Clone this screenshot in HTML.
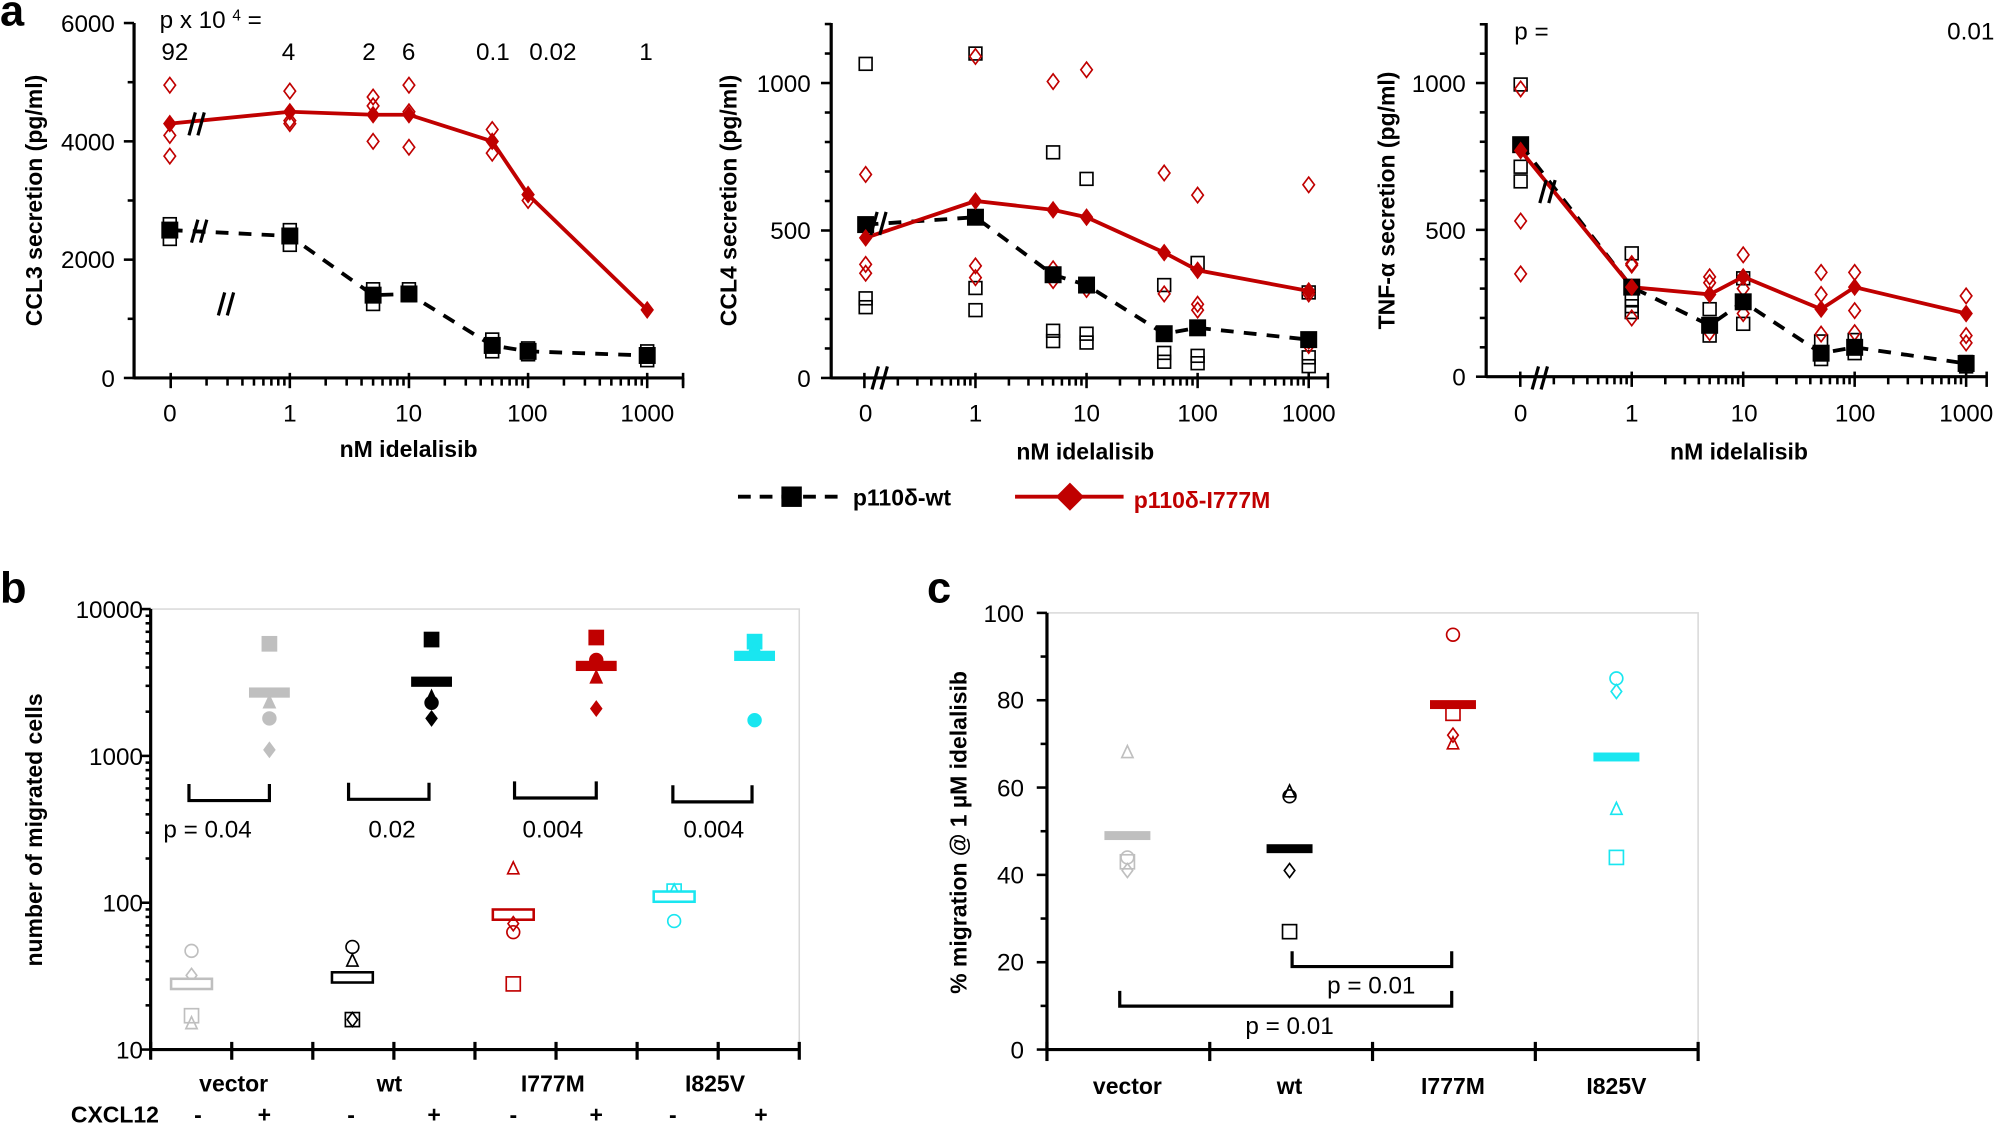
<!DOCTYPE html>
<html><head><meta charset="utf-8">
<style>
html,body{margin:0;padding:0;background:#fff;}
svg{display:block;}
text{font-family:"Liberation Sans Narrow","Liberation Sans",sans-serif;}
.b{font-weight:bold;}
</style></head>
<body>
<svg id="s" width="2002" height="1123" viewBox="0 0 1568 879.5" xmlns="http://www.w3.org/2000/svg">
<rect width="1568" height="880" fill="#fff"/>
<g id="g"></g>
<text x="0" y="20" font-size="34" class="b">a</text>
<text x="0" y="472" font-size="34" class="b">b</text>
<text x="726" y="472" font-size="34" class="b">c</text>

<g font-size="19" text-anchor="end">
<text x="90" y="25">6000</text><text x="90" y="118">4000</text><text x="90" y="210">2000</text><text x="90" y="303">0</text>
<text x="635" y="72">1000</text><text x="635" y="187">500</text><text x="635" y="303">0</text>
<text x="1148" y="72">1000</text><text x="1148" y="187">500</text><text x="1148" y="302">0</text>
</g>
<g font-size="19" text-anchor="middle">
<text x="133" y="330">0</text><text x="227" y="330">1</text><text x="320" y="330">10</text><text x="413" y="330">100</text><text x="507" y="330">1000</text>
<text x="678" y="330">0</text><text x="764" y="330">1</text><text x="851" y="330">10</text><text x="938" y="330">100</text><text x="1025" y="330">1000</text>
<text x="1191" y="330">0</text><text x="1278" y="330">1</text><text x="1366" y="330">10</text><text x="1453" y="330">100</text><text x="1540" y="330">1000</text>
<text x="137" y="47">92</text><text x="226" y="47">4</text><text x="289" y="47">2</text><text x="320" y="47">6</text><text x="386" y="47">0.1</text><text x="433" y="47">0.02</text><text x="506" y="47">1</text>
</g>
<text x="125" y="22" font-size="19">p x 10 <tspan font-size="12" dy="-6">4</tspan><tspan dy="6"> =</tspan></text>
<text x="1186" y="31" font-size="19">p  =</text>
<text x="1562" y="31" font-size="19" text-anchor="end">0.01</text>
<g font-size="18" class="b" text-anchor="middle">
<text x="320" y="358">nM idelalisib</text>
<text x="850" y="360">nM idelalisib</text>
<text x="1362" y="360">nM idelalisib</text>
<text transform="translate(33,157) rotate(-90)">CCL3 secretion (pg/ml)</text>
<text transform="translate(577,157) rotate(-90)">CCL4 secretion (pg/ml)</text>
<text transform="translate(1092,157) rotate(-90)">TNF-α secretion (pg/ml)</text>
<text transform="translate(33,650) rotate(-90)">number of migrated cells</text>
<text transform="translate(757,652) rotate(-90)">% migration @ 1 µM idelalisib</text>
</g>
<line x1="578" y1="389" x2="656" y2="389" stroke="#000" stroke-width="3" stroke-dasharray="10,7"/>
<rect x="612" y="381" width="16" height="16" fill="#000"/>
<text x="668" y="396" font-size="18" class="b">p110δ-wt</text>
<line x1="795" y1="389" x2="880" y2="389" stroke="#c00000" stroke-width="3"/>
<polygon points="838,378 849,389 838,400 827,389" fill="#c00000"/>
<text x="888" y="398" font-size="18" class="b" fill="#c00000">p110δ-I777M</text>

<g font-size="19" text-anchor="end">
<text x="112" y="484">10000</text><text x="112" y="599">1000</text><text x="112" y="714">100</text><text x="112" y="829">10</text>
<text x="802" y="487">100</text><text x="802" y="555">80</text><text x="802" y="624">60</text><text x="802" y="692">40</text><text x="802" y="760">20</text><text x="802" y="829">0</text>
</g>
<g font-size="19" text-anchor="middle">
<text x="307" y="656">0.02</text><text x="433" y="656">0.004</text><text x="559" y="656">0.004</text>
<text x="1074" y="778">p = 0.01</text><text x="1010" y="810">p = 0.01</text>
</g>
<text x="128" y="656" font-size="19">p =  0.04</text>
<g font-size="18" class="b" text-anchor="middle">
<text x="183" y="855">vector</text><text x="305" y="855">wt</text><text x="433" y="855">I777M</text><text x="560" y="855">I825V</text>
<text x="883" y="857">vector</text><text x="1010" y="857">wt</text><text x="1138" y="857">I777M</text><text x="1266" y="857">I825V</text>
<text x="90" y="879">CXCL12</text>
<text x="155" y="879">-</text><text x="207" y="879">+</text><text x="275" y="879">-</text><text x="340" y="879">+</text>
<text x="402" y="879">-</text><text x="467" y="879">+</text><text x="527" y="879">-</text><text x="596" y="879">+</text>
</g>
</svg>
<script>
var g=document.getElementById('g'),NS='http://www.w3.org/2000/svg';
function el(t,a){var e=document.createElementNS(NS,t);for(var k in a)e.setAttribute(k,a[k]);g.appendChild(e);return e;}
function line(x1,y1,x2,y2,c,w,d){var o={x1:x1,y1:y1,x2:x2,y2:y2,stroke:c||'#000','stroke-width':w||2.5};if(d)o['stroke-dasharray']=d;el('line',o);}
function dia(x,y,s,c,f){el('polygon',{points:(x)+','+(y-s)+' '+(x+s*0.75)+','+y+' '+x+','+(y+s)+' '+(x-s*0.75)+','+y,fill:f?c:'#fff','fill-opacity':f?1:0,stroke:c,'stroke-width':1.3});}
function sq(x,y,s,c,f){el('rect',{x:x-s,y:y-s,width:2*s,height:2*s,fill:f?c:'none',stroke:c,'stroke-width':1.3});}
function cir(x,y,s,c,f){el('circle',{cx:x,cy:y,r:s,fill:f?c:'none',stroke:c,'stroke-width':1.3});}
function tri(x,y,s,c,f){el('polygon',{points:x+','+(y-s)+' '+(x+s*0.8)+','+(y+s*0.7)+' '+(x-s*0.8)+','+(y+s*0.7),fill:f?c:'none',stroke:c,'stroke-width':1.3});}
function bar(x,y,c,f){el('rect',{x:x-16,y:y-4,width:32,height:8,fill:f?c:'#fff',stroke:c,'stroke-width':f?0:2});}
var R='#c00000';
function panelA(P){
 var ax=P.ax, y0=P.y0;
 line(ax,18,ax,y0+1);
 line(ax,y0,P.xe,y0);
 for(var v=0;v<=P.top;v+=P.minor){var y=y0-v*P.k;var maj=Math.abs(v/P.major-Math.round(v/P.major))<1e-6;line(ax-(maj?8:5),y,ax,y,'#000',2);}
 for(var d=-1;d<=3;d++){var base=P.x1+d*P.dec;for(var m=1;m<=9;m++){var x=base+P.dec*Math.log10(m);if(x>P.xe+1)break;if(x<ax)continue;var maj=m==1;line(x,y0-(maj?4:0),x,y0+(maj?8:6),'#000',2);}}
 line(P.xe,y0-4,P.xe,y0+8,'#000',2);
 var xs=[P.x0,P.x1,P.x1+P.dec*Math.log10(5),P.x1+P.dec,P.x1+P.dec*Math.log10(50),P.x1+2*P.dec,P.x1+3*P.dec];
 function Y(v){return y0-v*P.k;}
 P.bs.forEach(function(a,i){a.forEach(function(v){sq(xs[i],Y(v),5,'#000',false);});});
 P.rs.forEach(function(a,i){a.forEach(function(v){dia(xs[i],Y(v),6,R,false);});});
 var pb=P.bm.map(function(v,i){return xs[i]+','+Y(v)}).join(' ');
 el('polyline',{points:pb,fill:'none',stroke:'#000','stroke-width':3,'stroke-dasharray':'10,8'});
 var pr=P.rm.map(function(v,i){return xs[i]+','+Y(v)}).join(' ');
 el('polyline',{points:pr,fill:'none',stroke:R,'stroke-width':3});
 P.bm.forEach(function(v,i){sq(xs[i],Y(v),6,'#000',true);});
 P.rm.forEach(function(v,i){dia(xs[i],Y(v),6,R,true);});
}
panelA({ax:105,y0:296,xe:535,top:6000,minor:1000,major:2000,k:0.04633,x0:133,x1:227,dec:93.3,
 bs:[[2600,2350],[2500,2250],[1500,1250],[1500,1400],[650,450],[500,400],[450,300]],
 rs:[[4950,4100,3750],[4850,4350,4300],[4750,4600,4000],[4950,4500,3900],[4200,3800],[3000],[]],
 bm:[2500,2400,1400,1420,550,450,380],rm:[4300,4500,4450,4450,4000,3100,1150]});
panelA({ax:651,y0:296,xe:1040,top:1200,minor:100,major:500,k:0.231,x0:678,x1:764,dec:87,
 bs:[[1065,270,240],[1100,305,230],[765,160,125],[675,150,120],[315,85,55],[390,75,50],[290,70,40]],
 rs:[[690,385,355],[1090,380,340],[1005,370,330],[1045,300],[695,285],[620,250,230],[655,285,125,110]],
 bm:[520,545,350,315,150,170,130],rm:[475,600,570,545,425,365,295]});
panelA({ax:1164,y0:295,xe:1556,top:1200,minor:100,major:500,k:0.23,x0:1191,x1:1278,dec:87.3,
 bs:[[995,715,665],[420,260,240,220],[230,140],[335,180],[120,60],[125,80],[50,35]],
 rs:[[980,530,350],[385,380,200],[340,320,150],[415,300,215],[355,280,145],[355,225,150],[275,140,115]],
 bm:[790,305,175,255,80,100,45],rm:[770,305,280,340,230,305,215]});
function bm(x,y){line(x-4,y+9,x+1,y-9,'#000',2.5);line(x+3,y+9,x+8,y-9,'#000',2.5);}
bm(152,97);bm(154,181);bm(175,238);bm(686,175);bm(687,296);bm(1210,150);bm(1204,296);

var GR='#bfbfbf',CY='#19e6f0',BK='#000';
el('rect',{x:118,y:477,width:508,height:345,fill:'none',stroke:'#d9d9d9','stroke-width':1.2});
line(118,477,118,823);line(117,822,626,822);
function YB(v){return 822-115*Math.log10(v/10);}
for(var d=0;d<3;d++)for(var m=1;m<=9;m++){var y=YB(10*Math.pow(10,d)*m);line(118-(m==1?8:4),y,118,y,'#000',2);}
line(110,477,118,477,'#000',2);
for(var i=0;i<=8;i++){var x=118+i*63.5;line(x,816,x,830,'#000',2.5);}
function bgroup(xm,xp,c,neg,pos){
 neg.forEach(function(p){if(p[0]=='bar')bar(xm,YB(p[1]),c,false);else window[p[0]](xm,YB(p[1]),p[0]=='cir'?5:5.5,c,false);});
 pos.forEach(function(p){if(p[0]=='bar')bar(xp,YB(p[1]),c,true);else window[p[0]](xp,YB(p[1]),p[0]=='cir'?5:5.5,c,true);});
}
bgroup(150,211,GR,[['cir',47],['dia',32],['bar',28],['sq',17],['tri',15]],[['sq',5800],['bar',2700],['tri',2300],['cir',1800],['dia',1100]]);
bgroup(276,338,BK,[['cir',50],['tri',40],['bar',31],['sq',16],['dia',16]],[['sq',6200],['bar',3200],['tri',2500],['cir',2300],['dia',1800]]);
bgroup(402,467,R,[['tri',170],['bar',83],['dia',72],['cir',63],['sq',28]],[['sq',6400],['cir',4500],['bar',4100],['tri',3400],['dia',2100]]);
bgroup(528,591,CY,[['sq',120],['tri',120],['bar',110],['cir',75]],[['sq',6000],['tri',5500],['bar',4800],['cir',1750]]);
function brack(x1,x2,yb,yt){el('polyline',{points:x1+','+yt+' '+x1+','+yb+' '+x2+','+yb+' '+x2+','+yt,fill:'none',stroke:'#000','stroke-width':2.5});}
brack(148,211,627,614);brack(273,336,626,613);brack(403,467,625,612);brack(527,589,628,615);

el('rect',{x:820,y:480,width:510,height:342,fill:'none',stroke:'#d9d9d9','stroke-width':1.2});
line(820,480,820,823);line(819,822,1331,822);
function YC(v){return 822-v*3.42;}
for(var v=0;v<=100;v+=10){line(820-(v%20==0?8:5),YC(v),820,YC(v),'#000',2);}
for(var i=0;i<=4;i++){var x=820+i*127.5;line(x,816,x,831,'#000',2.5);}
function cg(x,c,pts,bv){pts.forEach(function(p){window[p[0]](x,YC(p[1]),p[0]=='cir'?5:5.5,c,false);});el('rect',{x:x-18,y:YC(bv)-3.5,width:36,height:7,fill:c});}
cg(883,GR,[['tri',68],['cir',44],['sq',43],['dia',41]],49);
cg(1010,BK,[['tri',59],['cir',58],['dia',41],['sq',27]],46);
cg(1138,R,[['cir',95],['sq',77],['dia',72],['tri',70]],79);
cg(1266,CY,[['cir',85],['dia',82],['tri',55],['sq',44]],67);
brack(1012,1137,757,745);
brack(877,1137,788,776);
</script>
</body></html>
